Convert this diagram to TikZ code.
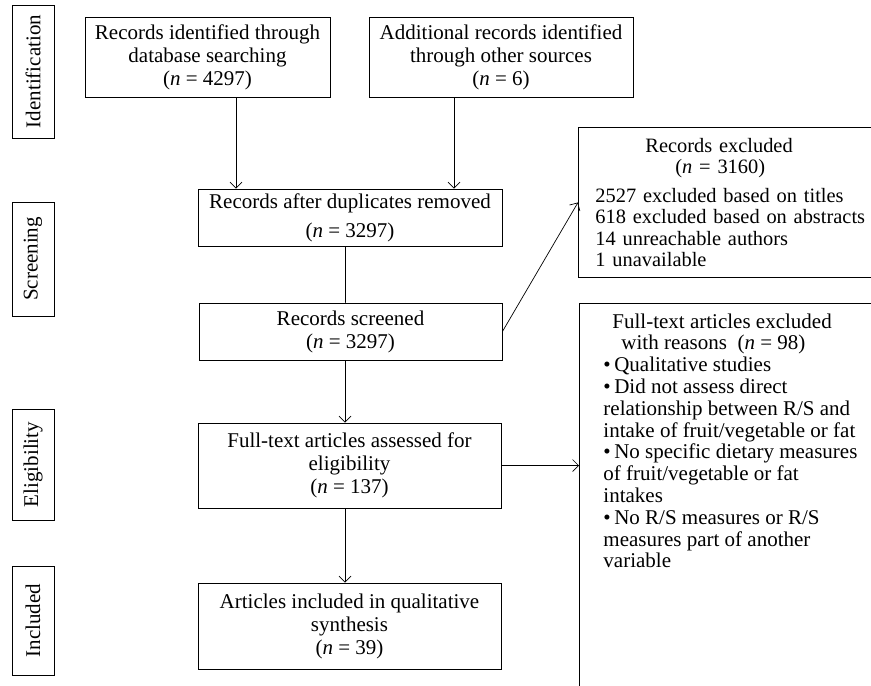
\documentclass[tikz,border=0pt]{standalone}
\usepackage{fontspec}
\setmainfont{Liberation Serif}
\usetikzlibrary{arrows.meta,calc}

\begin{document}
\begin{tikzpicture}[x=1pt,y=-1pt,line cap=round]
		\tikzstyle{box}=[draw,line width=0.9pt,align=center,inner sep=3pt,font=\fontsize{21}{23}\selectfont]
		\tikzstyle{phase}=[draw,line width=0.9pt,rotate=90,minimum height=42pt,inner sep=0pt,font=\fontsize{21}{23}\selectfont]
		\tikzstyle{flow}=[line width=0.7pt,-{Straight Barb[length=6pt,width=12pt]}]
		\def\nn{\textit{n}}

		\useasboundingbox (0,0) rectangle (871,686);
		\clip (0,0) rectangle (871,686);

		%phases
		\node[phase,minimum width=133pt] (identification) at (33,71.5) {Identification};
		\node[phase,minimum width=114pt] (screening) at (33,259) {Screening};
		\node[phase,minimum width=111pt] (eligibility) at (33,464.5) {Eligibility};
		\node[phase,minimum width=109pt] (inclusion) at (33,620.5) {Included};

		%records
		\node[box,minimum width=245pt,minimum height=80pt] (database) at (207.5,57) {Records identified through\\database searching\\(\nn{} = 4297)};
		\node[box,minimum width=264pt,minimum height=80pt] (other) at (501,57) {Additional records identified\\through other sources\\(\nn{} = 6)};
		\node[box,minimum width=304pt,minimum height=57pt] (duplicates) at (350,217.5) {Records after duplicates removed\\[6pt](\nn{} = 3297)};
		\node[box,minimum width=303pt,minimum height=57pt] (screened) at (350.5,331.5) {Records screened\\(\nn{} = 3297)};
		\node[box,minimum width=303pt,minimum height=85pt] (fulltext) at (349.5,465.5) {Full-text articles assessed for\\eligibility\\(\nn{} = 137)};
		\node[box,minimum width=303pt,minimum height=86pt] (included) at (349.5,626) {Articles included in qualitative\\synthesis\\(\nn{} = 39)};

		%exclusions
		\node[box,anchor=north west,align=left,text width=300pt,minimum height=150pt,inner xsep=17pt,font=\fontsize{20.4}{21.5}\selectfont] (excluded) at (578,127)
			{\hspace*{50pt}Records excluded\\\hspace*{80pt}(\nn{} = 3160)\\[7pt]2527 excluded based on titles\\618 excluded based on abstracts\\14 unreachable authors\\1 unavailable};
		\node[box,anchor=north west,align=left,inner xsep=24pt,inner ysep=10pt,font=\fontsize{21}{21.8}\selectfont] (reasons) at (579,303)
			{\parbox[t][430pt][t]{300pt}{\raggedright
			\hspace*{9pt}Full-text articles excluded\\
			\hspace*{18pt}with reasons\ \ (\nn{} = 98)\\
			\textbullet\,Qualitative studies\\
			\textbullet\,Did not assess direct\\
			relationship between R/S and\\
			intake of fruit/vegetable or fat\\
			\textbullet\,No specific dietary measures\\
			of fruit/vegetable or fat\\
			intakes\\
			\textbullet\,No R/S measures or R/S\\
			measures part of another\\
			variable}};

		%arrows
		\coordinate (spine) at (345,0);
		\draw[flow] ([xshift=28.5pt]database.south) -- ([xshift=28.5pt]database.south |- duplicates.north);
		\draw[flow] ([xshift=-47pt]other.south) -- ([xshift=-47pt]other.south |- duplicates.north);
		\draw[line width=0.7pt] (spine |- duplicates.south) -- (spine |- screened.north);
		\draw[flow] (spine |- screened.south) -- (spine |- fulltext.north);
		\draw[flow] (spine |- fulltext.south) -- (spine |- included.north);
		\draw[flow] (screened.east) -- (excluded.west);
		\draw[flow] (fulltext.east) -- (fulltext.east -| reasons.west);
	\end{tikzpicture}
\end{document}
